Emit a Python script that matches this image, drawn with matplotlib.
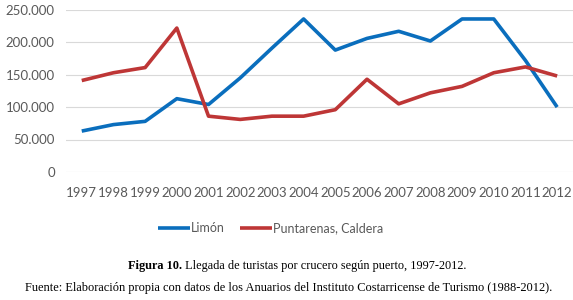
#!/usr/bin/env python3
"""Llegada de turistas por crucero segun puerto, 1997-2012."""

import matplotlib
matplotlib.use("Agg")
import matplotlib.pyplot as plt
from matplotlib.ticker import FuncFormatter

years = list(range(1997, 2013))
limon = [63000, 73000, 78000, 113000, 104000, 145000, 191000, 236000,
         188000, 206000, 217000, 202000, 236000, 236000, 172000, 100000]
puntarenas = [141000, 153000, 161000, 222000, 86000, 81000, 86000, 86000,
              96000, 143000, 105000, 122000, 132000, 153000, 162000, 148000]

BLUE = "#0A6EBD"
RED = "#BE3636"
GRAY = "#595959"
SERIF = "Liberation Serif"

fig = plt.figure(figsize=(5.73, 3.0), dpi=100)
ax = fig.add_axes([0.115, 0.427, 0.885, 0.54])

ax.plot(years, limon, color=BLUE, lw=2.6, label="Limón", solid_capstyle="butt")
ax.plot(years, puntarenas, color=RED, lw=2.6, label="Puntarenas, Caldera",
        solid_capstyle="butt")

ax.set_xlim(1996.5, 2012.5)
ax.set_ylim(0, 250000)
ax.set_yticks(range(0, 250001, 50000))
ax.yaxis.set_major_formatter(FuncFormatter(lambda v, p: f"{int(v):,}".replace(",", ".")))
ax.set_xticks(years)
ax.grid(axis="y", color="#D9D9D9", lw=0.8)
ax.set_axisbelow(True)
for s in ax.spines.values():
    s.set_visible(False)
ax.tick_params(length=0, labelsize=9.5, labelcolor=GRAY)
ax.tick_params(axis="x", pad=11)
ax.tick_params(axis="y", pad=8)
for lab in ax.get_xticklabels() + ax.get_yticklabels():
    lab.set_family("Lato")

leg = fig.legend(loc="center", bbox_to_anchor=(0.472, 0.24), ncol=2, frameon=False,
                 prop={"family": "Lato", "size": 9}, handlelength=2.6,
                 handletextpad=0.05, columnspacing=1.2)
for t in leg.get_texts():
    t.set_color(GRAY)

# caption: bold "Figura 10." followed by regular text
fig.canvas.draw()
bold = fig.text(0.224, 0.115, "Figura 10.", ha="left", va="center",
                family=SERIF, fontsize=8.8, weight="bold")
ax.annotate(" Llegada de turistas por crucero según puerto, 1997-2012.",
            xy=(1, 0.5), xycoords=bold, ha="left", va="center",
            family=SERIF, fontsize=8.8, annotation_clip=False)
fig.text(0.503, 0.04, "Fuente: Elaboración propia con datos de los Anuarios del Instituto "
         "Costarricense de Turismo (1988-2012).",
         ha="center", va="center", family=SERIF, fontsize=8.9)

fig.savefig("out.png", dpi=100)
